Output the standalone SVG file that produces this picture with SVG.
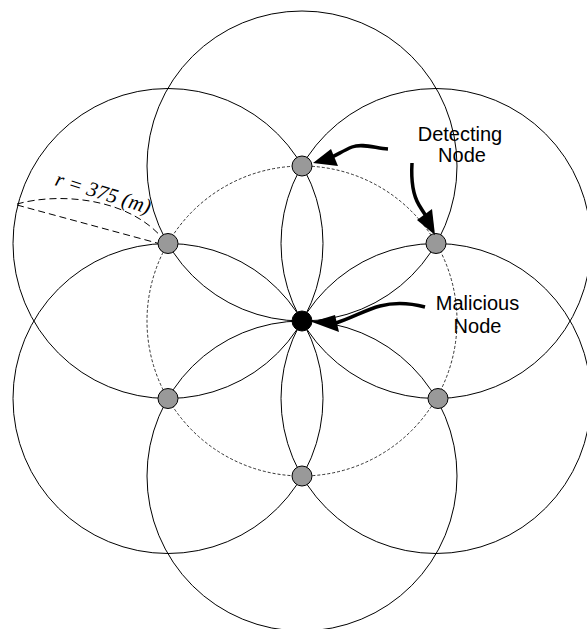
<svg xmlns="http://www.w3.org/2000/svg" width="587" height="629" viewBox="0 0 587 629">
<style>
.range{fill:none;stroke:#000;stroke-width:1}
.ring{fill:none;stroke:#000;stroke-width:0.8;stroke-dasharray:3 2}
.node{fill:#999;stroke:#000;stroke-width:1}
.mal{fill:#000;stroke:#000;stroke-width:1}
.shaft{fill:none;stroke:#000;stroke-width:3.5;stroke-linecap:butt}
.head{fill:#000;stroke:none}
.lbl{font-family:"Liberation Sans",Arial,sans-serif;font-size:20px;fill:#000;text-anchor:middle}
.rad{fill:none;stroke:#000;stroke-width:1;stroke-dasharray:7 4}
.rtxt{font-family:"Liberation Serif","Times New Roman",serif;font-style:italic;font-size:21px;fill:#000}
</style>
<rect width="587" height="629" fill="#fff"/>
<g id="ranges">
<circle class="range" cx="302" cy="166" r="155"/>
<circle class="range" cx="436" cy="243.5" r="155"/>
<circle class="range" cx="436" cy="398.5" r="155"/>
<circle class="range" cx="302" cy="476" r="155"/>
<circle class="range" cx="168" cy="398.5" r="155"/>
<circle class="range" cx="168" cy="243.5" r="155"/>
<circle class="ring" cx="302" cy="321" r="155"/>
</g>
<g id="radius">
<path class="rad" d="M17,204 C60,192 130,198 164,240"/>
<path class="rad" d="M17,205 L168,246"/>
<path d="M159,240 L169,246 L160,250" fill="none" stroke="#000" stroke-width="1"/>
<text class="rtxt" transform="translate(54,185) rotate(17)">r = 375 (m)</text>
</g>
<g id="node-top"><circle class="node" cx="302" cy="166" r="10"/></g>
<g id="node-ur"><circle class="node" cx="436" cy="243.5" r="10"/></g>
<g id="node-lr"><circle class="node" cx="438" cy="398.5" r="10"/></g>
<g id="node-bottom"><circle class="node" cx="302" cy="476" r="10"/></g>
<g id="node-ll"><circle class="node" cx="168" cy="398.5" r="10"/></g>
<g id="node-ul"><circle class="node" cx="168" cy="243.5" r="10"/></g>
<g id="node-malicious"><circle class="mal" cx="302" cy="321" r="10"/></g>
<g id="connectors">
<path class="shaft" d="M388,149 C375,148 362,143 352,147 C345,150 340,153 332,157"/>
<polygon class="head" points="313,163 331,149 338,166"/>
<path class="shaft" d="M412,163 C411,180 413,195 419,205 C422,210 424,213 426,216"/>
<polygon class="head" points="435,235 417,220 432,209"/>
<path class="shaft" d="M425,307 C410,303 395,302 380,306 C365,310 352,318 336,323"/>
<polygon class="head" points="312,322 335,315 339,332"/>
</g>
<g id="labels">
<text class="lbl" x="460" y="141">Detecting</text>
<text class="lbl" x="462" y="162">Node</text>
<text class="lbl" x="477.5" y="310">Malicious</text>
<text class="lbl" x="477.5" y="333">Node</text>
</g>
</svg>
